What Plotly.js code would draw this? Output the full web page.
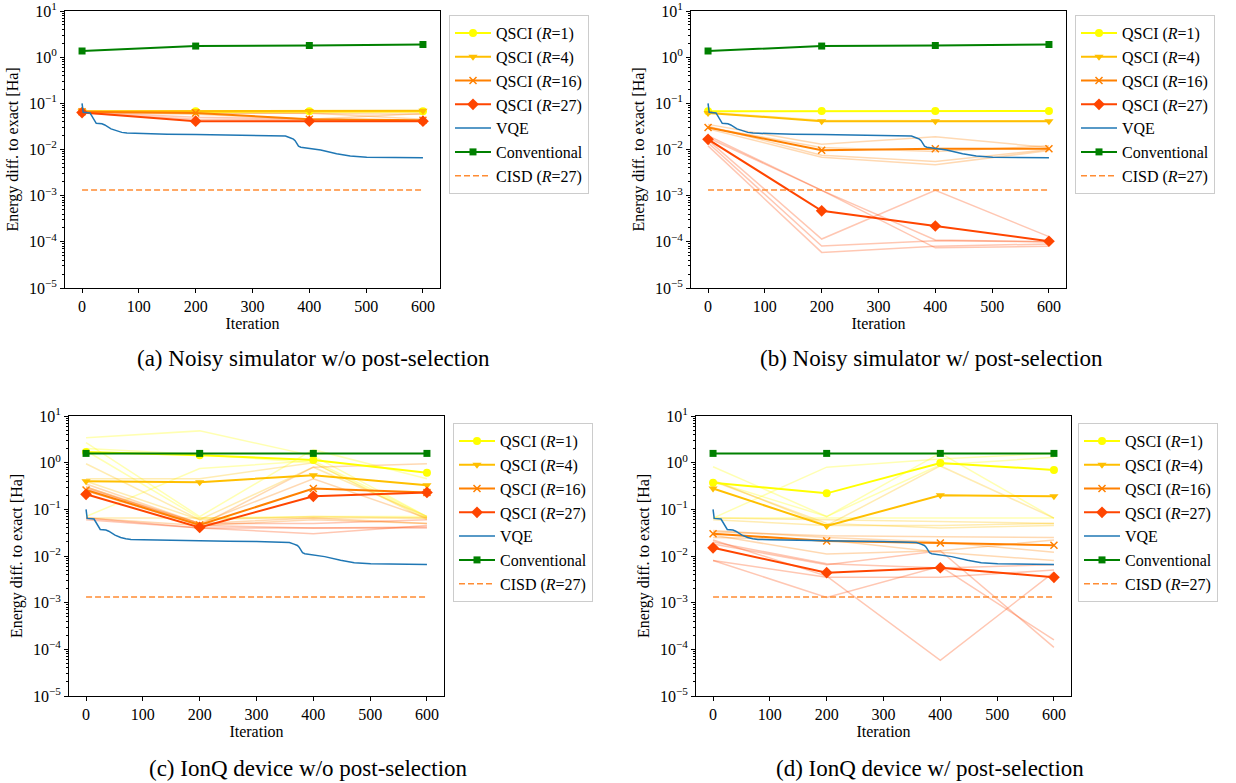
<!DOCTYPE html>
<html><head><meta charset="utf-8">
<script src="https://cdn.plot.ly/plotly-3.0.1.min.js"></script>
<style>body{margin:0;background:#fff;} #plot{width:1236px;height:783px;}</style>
</head><body><div id="plot"></div>
<script>
// ---------------- data ----------------
const iterations = [0, 200, 400, 600];
const vqeIter = [0, 2, 14, 20, 25, 35, 40, 51, 61, 70, 79, 100, 150, 200, 250, 300, 348, 358, 366, 372, 375, 378, 381, 385, 390, 401, 420, 448, 472, 501, 550, 600];
const vqeVals = [0.1, 0.064, 0.062, 0.045, 0.037, 0.036, 0.034, 0.028, 0.025, 0.0235, 0.0227, 0.0222, 0.0214, 0.021, 0.0206, 0.0204, 0.0202, 0.0195, 0.018, 0.0168, 0.0155, 0.013, 0.0118, 0.0112, 0.011, 0.0106, 0.0097, 0.0081, 0.0072, 0.0068, 0.0067, 0.0066];
const cisdX = [0, 600];
const cisdVals = [0.00133, 0.00133];

const legendNames = ['QSCI (<i>R</i>=1)', 'QSCI (<i>R</i>=4)', 'QSCI (<i>R</i>=16)', 'QSCI (<i>R</i>=27)', 'VQE', 'Conventional', 'CISD (<i>R</i>=27)'];
const yTickVals = [1e-5, 1e-4, 1e-3, 1e-2, 1e-1, 1e0, 1e1];
const yTickText = ['10<sup>−5</sup>', '10<sup>−4</sup>', '10<sup>−3</sup>', '10<sup>−2</sup>', '10<sup>−1</sup>', '10<sup>0</sup>', '10<sup>1</sup>'];
const xTickVals = [0, 100, 200, 300, 400, 500, 600];
const captions = ['(a) Noisy simulator w/o post-selection', '(b) Noisy simulator w/ post-selection', '(c) IonQ device w/o post-selection', '(d) IonQ device w/ post-selection'];

// (a) noisy simulator w/o post-selection
const convA = [1.36, 1.74, 1.79, 1.88];
const aR1 = [0.066, 0.067, 0.067, 0.067];
const aR4 = [0.067, 0.068, 0.068, 0.069];
const aR16 = [0.066, 0.062, 0.045, 0.043];
const aR27 = [0.063, 0.041, 0.041, 0.041];
const aFaintR4 = [[0.066, 0.066, 0.066, 0.066], [0.065, 0.064, 0.063, 0.065]];
const aFaintR16 = [[0.065, 0.060, 0.062, 0.045], [0.064, 0.058, 0.045, 0.060], [0.066, 0.063, 0.060, 0.058]];
const aFaintR27 = [[0.062, 0.045, 0.043, 0.041], [0.065, 0.050, 0.045, 0.042]];

// (b) noisy simulator w/ post-selection
const convB = [1.36, 1.74, 1.79, 1.88];
const bR1 = [0.067, 0.068, 0.068, 0.068];
const bR4 = [0.062, 0.041, 0.041, 0.041];
const bR16 = [0.030, 0.0096, 0.0104, 0.0104];
const bR27 = [0.0166, 0.00047, 0.00022, 0.000103];
const bFaintR4 = [[0.064, 0.043, 0.042, 0.042]];
const bFaintR16 = [[0.035, 0.013, 0.019, 0.011], [0.032, 0.0075, 0.0055, 0.010], [0.028, 0.0068, 0.0047, 0.0095], [0.030, 0.011, 0.009, 0.012]];
const bFaintR27 = [[0.016, 0.000115, 0.0013, 0.00013], [0.018, 0.0013, 0.00011, 0.0001], [0.014, 0.000081, 0.000105, 0.0001], [0.012, 0.000059, 0.00008, 0.00009], [0.020, 0.0013, 0.000074, 0.00008]];

// (c) IonQ device w/o post-selection
const convC = [1.58, 1.58, 1.58, 1.58];
const cR1 = [1.7, 1.45, 1.14, 0.61];
const cR4 = [0.40, 0.38, 0.54, 0.33];
const cR16 = [0.26, 0.046, 0.28, 0.23];
const cR27 = [0.21, 0.041, 0.19, 0.23];
const cFaintR1 = [[3.4, 4.8, 1.4, 0.07], [2.7, 0.07, 1.9, 0.45], [2.0, 1.5, 1.0, 0.065], [0.07, 0.75, 1.1, 0.07], [1.8, 0.065, 0.07, 0.07]];
const cFaintR4 = [[0.95, 0.06, 0.8, 0.07], [0.45, 0.45, 1.0, 0.06], [0.065, 0.065, 0.065, 0.065], [0.4, 0.06, 0.07, 0.065]];
const cFaintR16 = [[0.3, 0.045, 0.8, 0.95], [0.35, 0.05, 0.45, 0.065], [0.065, 0.045, 0.06, 0.05], [0.3, 0.05, 0.065, 0.05]];
const cFaintR27 = [[0.25, 0.045, 0.04, 0.04], [0.06, 0.04, 0.03, 0.045], [0.065, 0.04, 0.04, 0.042], [0.28, 0.05, 0.05, 0.06]];

// (d) IonQ device w/ post-selection
const convD = [1.58, 1.58, 1.58, 1.58];
const dR1 = [0.37, 0.22, 0.98, 0.70];
const dR4 = [0.28, 0.044, 0.20, 0.19];
const dR16 = [0.030, 0.021, 0.019, 0.017];
const dR27 = [0.015, 0.0044, 0.0056, 0.0035];
const dFaintR1 = [[0.82, 0.07, 1.6, 0.065], [0.065, 0.8, 1.2, 1.6], [0.4, 0.07, 0.9, 1.3], [0.065, 0.065, 0.065, 0.065]];
const dFaintR4 = [[0.42, 0.045, 0.85, 0.065], [0.06, 0.045, 0.045, 0.05], [0.4, 0.05, 0.04, 0.045], [0.065, 0.06, 0.055, 0.05]];
const dFaintR16 = [[0.033, 0.027, 0.026, 0.025], [0.028, 0.011, 0.013, 0.022], [0.025, 0.022, 0.012, 0.008], [0.035, 0.025, 0.02, 0.012]];
const dFaintR27 = [[0.008, 0.0035, 0.0035, 0.005], [0.022, 0.0037, 0.000058, 0.0045], [0.018, 0.0065, 0.013, 0.00011], [0.008, 0.0013, 0.006, 0.00016], [0.02, 0.0068, 0.0055, 0.0065]];

// ---------------- styling ----------------
const FONT = 'Liberation Serif, Times New Roman, serif';
const colR = ['#ffff00', '#ffbf00', '#ff8000', '#ff4500'];
const symR = ['circle', 'triangle-down', 'x-thin-open', 'diamond'];
const sizeR = [8, 8, 7, 9];
const colVQE = '#1f77b4', colConv = '#008000', colCISD = '#ff8c33';

const panels = [
  {main: [aR1, aR4, aR16, aR27], faint: [[], aFaintR4, aFaintR16, aFaintR27], conv: convA},
  {main: [bR1, bR4, bR16, bR27], faint: [[], bFaintR4, bFaintR16, bFaintR27], conv: convB},
  {main: [cR1, cR4, cR16, cR27], faint: [cFaintR1, cFaintR4, cFaintR16, cFaintR27], conv: convC},
  {main: [dR1, dR4, dR16, dR27], faint: [dFaintR1, dFaintR4, dFaintR16, dFaintR27], conv: convD}
];

// minor tick positions for the log axis (2..9 per decade)
const minorVals = [];
for (let e = -5; e < 1; e++) for (let m = 2; m <= 9; m++) minorVals.push(m * Math.pow(10, e));

const W = 1236, H = 783;
const boxes = [ // pixel boxes [left, right, top, bottom]
  [65, 440, 11, 288], [691, 1066, 11, 288], [69, 444, 416, 696], [696, 1071, 416, 696]
];
const legPos = [[449, 15], [1075, 15], [453, 423], [1078, 423]];
const capPos = [[313, 358], [931, 358], [308, 768], [930, 768]];

const traces = [];
const layout = {
  width: W, height: H, margin: {l: 0, r: 0, t: 0, b: 0},
  paper_bgcolor: 'white', plot_bgcolor: 'white',
  font: {family: FONT, size: 16, color: 'black'},
  annotations: []
};

panels.forEach((P, i) => {
  const n = i === 0 ? '' : String(i + 1);
  const xa = 'x' + n, ya = 'y' + n;
  const leg = 'legend' + n;
  const common = {xaxis: xa, yaxis: ya, legend: leg, hoverinfo: 'skip'};
  // faint runs
  P.faint.forEach((runs, r) => {
    runs.forEach(run => traces.push(Object.assign({
      type: 'scatter', mode: 'lines', x: iterations, y: run, showlegend: false,
      line: {color: colR[r], width: 1.5}, opacity: 0.3
    }, common)));
  });
  // main QSCI
  P.main.forEach((vals, r) => {
    traces.push(Object.assign({
      type: 'scatter', mode: 'lines+markers', x: iterations, y: vals,
      name: legendNames[r], legendgroup: 'g' + r + n,
      line: {color: colR[r], width: 2},
      marker: {symbol: symR[r], size: sizeR[r], color: colR[r], line: {color: colR[r], width: r === 2 ? 1.5 : 0}}
    }, common));
  });
  traces.push(Object.assign({
    type: 'scatter', mode: 'lines', x: vqeIter, y: vqeVals, name: legendNames[4], legendgroup: 'g4' + n,
    line: {color: colVQE, width: 1.5}
  }, common));
  traces.push(Object.assign({
    type: 'scatter', mode: 'lines+markers', x: iterations, y: P.conv, name: legendNames[5], legendgroup: 'g5' + n,
    line: {color: colConv, width: 2}, marker: {symbol: 'square', size: 7, color: colConv}
  }, common));
  traces.push(Object.assign({
    type: 'scatter', mode: 'lines', x: cisdX, y: cisdVals, name: legendNames[6], legendgroup: 'g6' + n,
    line: {color: colCISD, width: 1.5, dash: '6px,3px'}
  }, common));

  const b = boxes[i];
  layout['xaxis' + n] = {
    domain: [b[0] / W, b[1] / W], anchor: ya, range: [-30, 630],
    tickvals: xTickVals, ticks: 'outside', ticklen: 4, tickcolor: 'black',
    showline: true, linecolor: 'black', linewidth: 1, mirror: true, showgrid: false, zeroline: false,
    tickfont: {family: FONT, size: 16}, title: {text: 'Iteration', font: {family: FONT, size: 16}, standoff: 2}
  };
  layout['yaxis' + n] = {
    domain: [1 - b[3] / H, 1 - b[2] / H], anchor: xa, type: 'log', range: [-5, 1],
    tickvals: yTickVals, ticktext: yTickText, ticks: 'outside', ticklen: 4, tickcolor: 'black',
    ticklabeloverflow: 'allow',
    minor: {tickvals: minorVals, ticks: 'outside', ticklen: 2, tickcolor: 'black', showgrid: false},
    showline: true, linecolor: 'black', linewidth: 1, mirror: true, showgrid: false, zeroline: false,
    tickfont: {family: FONT, size: 16}, title: {text: 'Energy diff. to exact [Ha]', font: {family: FONT, size: 16}, standoff: 6}
  };
  layout[leg] = {
    x: legPos[i][0] / W, y: 1 - legPos[i][1] / H, xanchor: 'left', yanchor: 'top',
    bgcolor: 'white', bordercolor: '#cccccc', borderwidth: 1,
    font: {family: FONT, size: 16, color: 'black'}, tracegroupgap: 0, itemwidth: 36
  };
  layout.annotations.push({
    text: captions[i], xref: 'paper', yref: 'paper', x: capPos[i][0] / W, y: 1 - capPos[i][1] / H,
    xanchor: 'center', yanchor: 'middle', showarrow: false, font: {family: FONT, size: 23, color: 'black'}
  });
});

Plotly.newPlot('plot', traces, layout, {displayModeBar: false, staticPlot: true});
</script></body></html>
